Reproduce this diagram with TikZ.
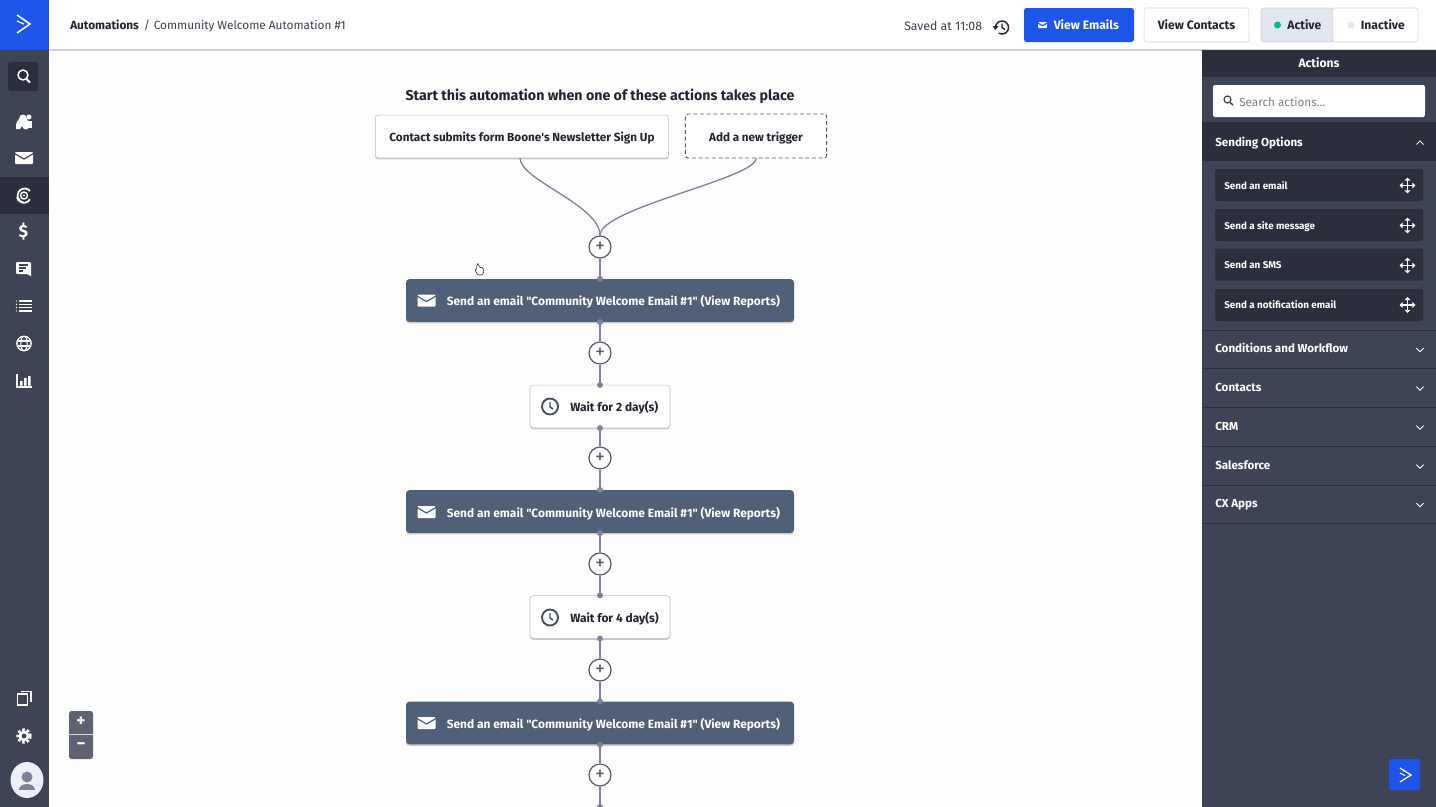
\documentclass[tikz,border=0pt]{standalone}
\usepackage{fontspec}
\setmainfont{Fira Sans}[Ligatures=TeXOff]
\usetikzlibrary{arrows.meta}
\usetikzlibrary{shadows}
\usetikzlibrary{positioning}

\definecolor{blueac}{HTML}{1C55E8}
\definecolor{panel}{HTML}{3F4356}
\definecolor{paneldark}{HTML}{2B2E3C}
\definecolor{boxblue}{HTML}{4F6078}
\definecolor{inkdark}{HTML}{1F2430}
\definecolor{inkgrey}{HTML}{3B3F4C}
\definecolor{ringgrey}{HTML}{55586A}
\definecolor{flowgrey}{HTML}{7F8299}
\definecolor{edgegrey}{HTML}{BCBFCC}
\definecolor{canvasbg}{HTML}{FDFDFE}
\definecolor{activebg}{HTML}{E2E6F0}
\definecolor{greenon}{HTML}{00BE8C}
\definecolor{zoombg}{HTML}{5F6272}
\definecolor{avatarbg}{HTML}{ECEEF8}

\tikzset{
  evenline/.style={text height=6.5pt,text depth=0pt},
  softshadow/.style={drop shadow={shadow xshift=0pt,shadow yshift=-1.2pt,fill=black,opacity=.2}},
  triggerbox/.style={draw=edgegrey,fill=white,rounded corners=2pt,inner sep=0pt,minimum height=32pt,text height=7.8pt,text depth=0pt,font=\fontsize{8.8}{11}\selectfont\bfseries,text=inkdark,softshadow},
  dashbox/.style={draw=ringgrey,line width=.7pt,dash pattern=on 3pt off 2pt,fill=white,rounded corners=2pt,inner sep=0pt,minimum height=33pt,minimum width=106pt,text height=7.8pt,text depth=0pt,font=\fontsize{8.75}{11}\selectfont\bfseries,text=inkdark},
  mailbox/.style={fill=boxblue,rounded corners=2.5pt,inner sep=0pt,minimum width=291pt,minimum height=32pt,softshadow},
  waitbox/.style={draw=edgegrey,fill=white,rounded corners=2.5pt,inner sep=0pt,minimum width=105pt,minimum height=32pt,softshadow},
  flowtext/.style={inner sep=0pt,evenline,font=\fontsize{8.95}{11}\selectfont\bfseries,anchor=west},
  plusnode/.style={circle,draw=ringgrey,fill=white,line width=.9pt,minimum size=16.5pt,inner sep=0pt,font=\fontsize{15}{15}\selectfont,text=ringgrey},
  flowline/.style={draw=flowgrey,line width=1pt},
  flowdot/.style={circle,fill=flowgrey,minimum size=4.5pt,inner sep=0pt},
  topbtn/.style={draw=edgegrey!70,fill=white,rounded corners=2pt,inner sep=0pt,minimum height=25.5pt,evenline,font=\fontsize{9.1}{11}\selectfont\bfseries,text=inkdark},
  crumbtext/.style={inner sep=0pt,evenline,anchor=west,text=inkgrey,font=\fontsize{8.85}{11}\selectfont},
  sectlabel/.style={inner sep=0pt,evenline,anchor=west,text=white,font=\fontsize{8.7}{11}\selectfont\bfseries},
  itembox/.style={fill=paneldark,rounded corners=1.5pt,inner sep=0pt,minimum width=156pt,minimum height=24pt},
  itemlabel/.style={inner sep=0pt,evenline,anchor=west,text=white,font=\fontsize{7.4}{10}\selectfont\bfseries},
  sepline/.style={draw=paneldark,line width=.6pt},
  pics/mailicon/.style={code={
    \fill[white,rounded corners=.6pt] (-9,-6) rectangle (9,6);
    \draw[#1,line width=.9pt] (-9.5,-4.5) -- (0,1) -- (9.5,-4.5);
  }},
  pics/clockicon/.style={code={
    \draw[boxblue!80!black,line width=1.4pt] (0,0) circle (8);
    \draw[boxblue!80!black,line width=1.1pt] (0,-4.5) -- (0,0.5) -- (3,2.5);
  }},
  pics/moveicon/.style={code={
    \draw[white,line width=1.4pt,{Triangle[width=4.2pt,length=2.3pt]}-{Triangle[width=4.2pt,length=2.3pt]}] (-8,0) -- (8,0);
    \draw[white,line width=1.4pt,{Triangle[width=4.2pt,length=2.3pt]}-{Triangle[width=4.2pt,length=2.3pt]}] (0,-8) -- (0,8);
  }},
  pics/chevdown/.style={code={
    \draw[white,line width=.7pt] (-3.5,-1.8) -- (0,1.8) -- (3.5,-1.8);
  }},
}

\begin{document}
\begin{tikzpicture}[x=0.75pt,y=-0.75pt]
  \useasboundingbox (0,0) rectangle (1436,807);
  \fill[canvasbg] (0,0) rectangle (1436,807);

  % top bar
  \fill[white] (49,0) rectangle (1436,50);
  \draw[edgegrey!70,line width=.8pt] (49,50) -- (1436,50);
  \node[crumbtext,text=inkdark,font=\fontsize{8.85}{11}\selectfont\bfseries] (crumbA) at (70,25) {Automations};
  \node[crumbtext] (crumbS) at (143.5,25) {/};
  \node[crumbtext] (crumbB) at (153.5,25) {Community Welcome Automation \#1};
  \node[crumbtext,font=\fontsize{9.2}{11}\selectfont] (saved) at (904,25.7) {Saved at 11:08};
  % history icon
  \draw[inkdark,line width=1.1pt] (995.5,27.5) arc[start angle=180,end angle=480,radius=6.5];
  \fill[inkdark] (992.5,26) -- (998.5,26) -- (995.5,30) -- cycle;
  \draw[inkdark,line width=1pt] (1002,23.5) -- (1002,27.5) -- (1005,29.5);

  \node[topbtn,draw=none,fill=blueac,minimum width=82.5pt,text=white] (viewmail) at (1079,25) {\hspace*{11pt}View Emails};
  \path (1042.5,25.2) pic[scale=.5] {mailicon=blueac};
  \node[topbtn,minimum width=78.5pt] (viewcont) at (1196.5,25) {View Contacts};
  \node[topbtn,fill=activebg,minimum width=54pt] (active) at (1297,25) {\hspace*{11pt}Active};
  \node[topbtn,minimum width=64pt] (inactive) at (1375.5,25) {\hspace*{11pt}Inactive};
  \fill[greenon] (1277.5,25) circle (3.5);
  \fill[activebg] (1351,25) circle (3.5);

  % left bar
  \fill[panel] (0,0) rectangle (49,807);
  \fill[blueac] (0,0) rectangle (49,50);
  \draw[white,line width=1.2pt] (17,15) -- (30,24) -- (17,33);
  \draw[white,line width=1pt] (17,21) -- (24,24);
  \fill[paneldark,rounded corners=2pt] (8,62) rectangle (38,91);
  \fill[paneldark] (0,177) rectangle (49,214);
  % search
  \draw[white,line width=1.1pt] (23,75) circle (5);
  \draw[white,line width=1.5pt] (26.5,79) -- (30,82.5);
  % people
  \fill[white] (16,129) .. controls (16,122) and (17,121) .. (19,119) .. controls (19,113) and (27,113) .. (27,119) .. controls (29,121) and (28,125) .. (28,129) -- (24,129) -- (22,126) -- (20,129) -- cycle;
  \fill[white] (29,117) circle (2.5);
  \fill[white] (27.5,121) rectangle (32,128);
  % mail
  \path (24,158) pic {mailicon=panel};
  % target
  \draw[white,line width=1.1pt] (24,195.5) circle (3.5);
  \fill[white] (24,195.5) circle (1.2);
  \draw[white,line width=1.3pt] (30,191) arc[start angle=-40,end angle=-260,radius=7];
  \draw[white,line width=1.3pt] (17,197) arc[start angle=170,end angle=30,radius=7];
  % dollar
  \node[inner sep=0pt,text=white,font=\fontsize{13}{13}\selectfont\bfseries] (dollar) at (23.5,232) {\$};
  % chat
  \fill[white,rounded corners=.8pt] (16,262) rectangle (31,274);
  \fill[white] (25,273) -- (31,273) -- (31,276) -- cycle;
  \draw[panel,line width=.8pt] (19,265) -- (28,265) (19,268) -- (26,268) (19,271) -- (23,271);
  % list
  \draw[white,line width=1.1pt] (19,301) -- (32,301) (19,304.3) -- (32,304.3) (19,307.6) -- (32,307.6) (19,311) -- (32,311);
  \fill[white] (16.5,301) circle (.7) (16.5,304.3) circle (.7) (16.5,307.6) circle (.7) (16.5,311) circle (.7);
  % globe
  \draw[white,line width=1pt] (24,343.5) circle (7.2);
  \draw[white,line width=.8pt] (24,343.5) ellipse (3.2 and 7.2);
  \draw[white,line width=.8pt] (17,341) -- (31,341) (17,346) -- (31,346);
  % bars
  \draw[white,line width=1.1pt] (17,374) -- (17,387) -- (31.5,387);
  \fill[white] (20,381) rectangle (22.5,385.5) (24,378) rectangle (26.5,385.5) (28,376) rectangle (30.5,385.5);
  % copy
  \draw[white,line width=1.1pt] (17.5,694) rectangle (27.5,705);
  \draw[white,line width=1.1pt] (20.5,691.5) -- (31,691.5) -- (31,702);
  % gear
  \draw[white,line width=2.2pt,dash pattern=on 1.9pt off 1.5pt] (24,736) circle (6.2);
  \fill[white] (24,736) circle (5.5);
  \fill[panel] (24,736) circle (2.4);
  % avatar
  \fill[avatarbg] (27,780) ellipse (16.5 and 18);
  \fill[flowgrey] (27,777) circle (5.5);
  \fill[flowgrey] (19,790) .. controls (19,782) and (35,782) .. (35,790) -- cycle;

  % zoom buttons
  \fill[zoombg,rounded corners=2pt] (69,711) rectangle (93,759);
  \draw[white!70!gray,line width=.4pt] (69,734.5) -- (93,734.5);
  \node[inner sep=0pt,text=white,font=\fontsize{13}{13}\selectfont\bfseries] (zoomin) at (81,722) {+};
  \node[inner sep=0pt,text=white,font=\fontsize{13}{13}\selectfont\bfseries] (zoomout) at (81,746.5) {\textminus};

  % right panel
  \fill[panel] (1202,50) rectangle (1436,807);
  \fill[paneldark] (1202,50) rectangle (1436,77);
  \fill[paneldark] (1202,122) rectangle (1436,161);
  \node[sectlabel,anchor=center,font=\fontsize{9.1}{11}\selectfont\bfseries] (actions) at (1319,63.4) {Actions};
  \node[fill=white,rounded corners=1.5pt,inner sep=0pt,minimum width=159pt,minimum height=24pt] (searchbox) at (1319,101) {};
  \draw[inkgrey,line width=.9pt] (1227.5,99.5) circle (3.5);
  \draw[inkgrey,line width=1.1pt] (1230,102.5) -- (1233,105);
  \node[crumbtext,text=gray,font=\fontsize{8.8}{11}\selectfont] (searchtxt) at (1239,101.7) {Search actions...};

  \node[sectlabel] (sectA) at (1215,141.7) {Sending Options};
  \draw[white,line width=.7pt] (1416.5,144.5) -- (1420,141) -- (1423.5,144.5);

  \node[itembox] (itemA) at (1319,185) {};
  \node[itembox] (itemB) at (1319,225) {};
  \node[itembox] (itemC) at (1319,264.5) {};
  \node[itembox] (itemD) at (1319,305) {};
  \node[itemlabel] (labelA) at (1224,185) {Send an email};
  \node[itemlabel] (labelB) at (1224,225) {Send a site message};
  \node[itemlabel] (labelC) at (1224,264.4) {Send an SMS};
  \node[itemlabel] (labelD) at (1224,304) {Send a notification email};
  \path (1407.5,185.5) pic {moveicon};
  \path (1407.5,225.5) pic {moveicon};
  \path (1407.5,265.5) pic {moveicon};
  \path (1407.5,305) pic {moveicon};

  \draw[sepline] (1202,330) -- (1436,330);
  \draw[sepline] (1202,368) -- (1436,368);
  \draw[sepline] (1202,407) -- (1436,407);
  \draw[sepline] (1202,446) -- (1436,446);
  \draw[sepline] (1202,485) -- (1436,485);
  \draw[sepline] (1202,523) -- (1436,523);
  \node[sectlabel] (sectB) at (1215,348.4) {Conditions and Workflow};
  \node[sectlabel] (sectC) at (1215,387.4) {Contacts};
  \node[sectlabel] (sectD) at (1215,426.4) {CRM};
  \node[sectlabel] (sectE) at (1215,464.7) {Salesforce};
  \node[sectlabel] (sectF) at (1215,503.4) {CX Apps};
  \path (1420,350) pic {chevdown};
  \path (1420,388.5) pic {chevdown};
  \path (1420,427.5) pic {chevdown};
  \path (1420,466.5) pic {chevdown};
  \path (1420,505) pic {chevdown};

  % corner button
  \fill[blueac,rounded corners=1pt] (1389,759) rectangle (1420,790);
  \draw[white,line width=1pt] (1400,768) -- (1411,775) -- (1400,782);
  \draw[white,line width=.8pt] (1400,773) -- (1405,775.5);

  % heading and flow boxes
  \node[inner sep=0pt,text height=8pt,text depth=0pt,text=inkdark,font=\fontsize{10.65}{13}\selectfont\bfseries] (heading) at (600,95.4) {Start this automation when one of these actions takes place};
  \node[triggerbox,minimum width=220pt] (trigA) at (522,136.5) {Contact submits form Boone's Newsletter Sign Up};
  \node[dashbox] (trigB) at (756,136) {Add a new trigger};

  \node[plusnode] (plusA) at (600,247) {+};
  \node[mailbox] (mailA) at (600,300.5) {};
  \node[plusnode] (plusB) at (600,353) {+};
  \node[waitbox] (waitA) at (600,406.5) {};
  \node[plusnode] (plusC) at (600,458) {+};
  \node[mailbox] (mailB) at (600,511.5) {};
  \node[plusnode] (plusD) at (600,564) {+};
  \node[waitbox] (waitB) at (600,617) {};
  \node[plusnode] (plusE) at (600,670) {+};
  \node[mailbox] (mailC) at (600,723) {};
  \node[plusnode] (plusF) at (600,775) {+};
  \coordinate (flowend) at (600,807);

  \draw[flowline] ([xshift=-1.5pt]trigA.south) .. controls +(0,22) and (600,205) .. (plusA.north);
  \draw[flowline] (trigB.south) .. controls +(0,20) and (600,208) .. (plusA.north);
  \draw[flowline] (plusA) -- (mailA.north);
  \draw[flowline] (mailA.south) -- (plusB);
  \draw[flowline] (plusB) -- (waitA.north);
  \draw[flowline] (waitA.south) -- (plusC);
  \draw[flowline] (plusC) -- (mailB.north);
  \draw[flowline] (mailB.south) -- (plusD);
  \draw[flowline] (plusD) -- (waitB.north);
  \draw[flowline] (waitB.south) -- (plusE);
  \draw[flowline] (plusE) -- (mailC.north);
  \draw[flowline] (mailC.south) -- (plusF);
  \draw[flowline] (plusF) -- (flowend);

  \node[flowdot] (dotA) at (mailA.north) {};
  \node[flowdot] (dotB) at (mailA.south) {};
  \node[flowdot] (dotC) at (waitA.north) {};
  \node[flowdot] (dotD) at (waitA.south) {};
  \node[flowdot] (dotE) at (mailB.north) {};
  \node[flowdot] (dotF) at (mailB.south) {};
  \node[flowdot] (dotG) at (waitB.north) {};
  \node[flowdot] (dotH) at (waitB.south) {};
  \node[flowdot] (dotI) at (mailC.north) {};
  \node[flowdot] (dotJ) at (mailC.south) {};
  \node[flowdot] (dotK) at (flowend) {};

  \node[flowtext,text=white] (mailtextA) at (446.5,301.5) {Send an email "Community Welcome Email \#1" (View Reports)};
  \node[flowtext,text=white] (mailtextB) at (446.5,513) {Send an email "Community Welcome Email \#1" (View Reports)};
  \node[flowtext,text=white] (mailtextC) at (446.5,724) {Send an email "Community Welcome Email \#1" (View Reports)};
  \node[flowtext,text=inkdark] (waittextA) at (570,407.4) {Wait for 2 day(s)};
  \node[flowtext,text=inkdark] (waittextB) at (570,618.4) {Wait for 4 day(s)};
  \path (426.5,300.5) pic {mailicon=boxblue};
  \path (426.5,512) pic {mailicon=boxblue};
  \path (426.5,723) pic {mailicon=boxblue};
  \path (550,406.5) pic {clockicon};
  \path (550,617.5) pic {clockicon};

  % hand cursor
  \draw[inkdark,fill=white,line width=.4pt,rounded corners=.8pt] (477,264) -- (478.5,264) -- (479,267) -- (483,268) -- (484,272) -- (482,275) -- (478,275) -- (475,270) -- (476.5,269.5) -- cycle;
\end{tikzpicture}
\end{document}
